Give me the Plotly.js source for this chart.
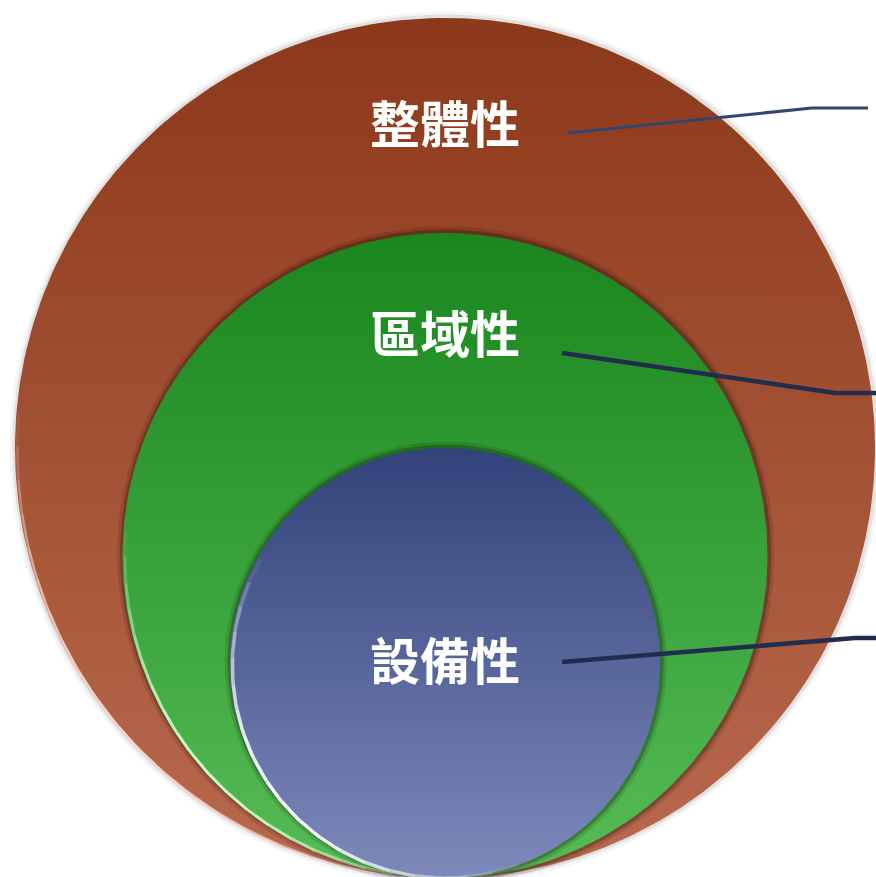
<!DOCTYPE html>
<html>
<head>
<meta charset="utf-8">
<script src="https://cdn.plot.ly/plotly-3.0.1.min.js"></script>
<style>html,body{margin:0;padding:0;background:#fff;}#chart{width:876px;height:877px;}</style>
</head>
<body>
<div id="chart"></div>
<script>
// ---- data ----
const levels = ['整體性', '區域性', '設備性'];
const radii = [100, 75, 50];            // relative size of each nested circle
const topColors = ['#8c381a', '#1b861d', '#31437a'];
const bottomColors = ['#b96a4e', '#56bc56', '#7d89bb'];
const rimRGB = ['255,220,205', '205,255,205', '255,255,255'];
const leaderColors = ['#34446c', '#222c4c', '#222c4c'];

// ---- layout helpers (pixel -> axis units) ----
const W = 876, H = 877, CX = 445, BASE = 878, SCALE = 4.3;
const ux = px => (px - CX) / SCALE;
const uy = py => (BASE - py) / SCALE;

function circle(r, grow, n, dx, dy) {
  const xs = [], ys = [];
  const R = r + grow;
  for (let i = 0; i <= n; i++) {
    const a = 2 * Math.PI * i / n;
    xs.push(dx + R * Math.cos(a));
    ys.push(dy + r + R * Math.sin(a));
  }
  return {xs, ys};
}
function arc(r, a0, a1, n) {
  const xs = [], ys = [];
  for (let i = 0; i <= n; i++) {
    const a = (a0 + (a1 - a0) * i / n) * Math.PI / 180;
    xs.push(r * Math.cos(a));
    ys.push(r + r * Math.sin(a));
  }
  return {xs, ys};
}

const shadowAlpha = [0.08, 0.22, 0.22];
const rimRange = [[175, 265], [175, 270], [150, 290]];
const rimWidth = [2.5, 3, 3.5];
const traces = [];
radii.forEach((r, i) => {
  // soft shadow (two layers)
  [[1.4, shadowAlpha[i] * 0.5], [0.7, shadowAlpha[i]]].forEach(([g, al]) => {
    const s = circle(r, g, 360, 0.15, 0.1);
    traces.push({x: s.xs, y: s.ys, mode: 'lines', fill: 'toself', line: {width: 0},
      fillcolor: 'rgba(0,0,0,' + al + ')', hoverinfo: 'skip', showlegend: false});
  });
  const c = circle(r, 0, 360, 0, 0);
  traces.push({x: c.xs, y: c.ys, mode: 'lines', fill: 'toself', line: {width: 0},
    fillgradient: {type: 'vertical', colorscale: [[0, bottomColors[i]], [1, topColors[i]]]},
    name: levels[i], hoverinfo: 'name', showlegend: false});
  // bevel highlight: segments fading in and out
  const [a0, a1] = rimRange[i];
  const nseg = 20;
  for (let k = 0; k < nseg; k++) {
    const s0 = a0 + (a1 - a0) * k / nseg, s1 = a0 + (a1 - a0) * (k + 1) / nseg;
    const t = (k + 0.5) / nseg;
    const op = Math.pow(Math.sin(Math.PI * t), 1.0) * 0.95;
    const a = arc(r - 0.55, s0, s1, 8);
    traces.push({x: a.xs, y: a.ys, mode: 'lines', line: {width: rimWidth[i], color: 'rgba(' + rimRGB[i] + ',' + op.toFixed(3) + ')'},
      hoverinfo: 'skip', showlegend: false});
  }
});

// leader lines (label -> right edge)
const leaderPx = [
  [[568, 133], [812, 108], [868, 108]],
  [[562, 353], [835, 393], [876, 393]],
  [[562, 662], [855, 638], [876, 638]]
];
const leaderWidth = [3, 4.5, 4.5];
leaderPx.forEach((pts, i) => {
  traces.push({x: pts.map(p => ux(p[0])), y: pts.map(p => uy(p[1])), mode: 'lines',
    line: {color: leaderColors[i], width: leaderWidth[i]}, hoverinfo: 'skip', showlegend: false});
});

const labelPy = [121, 331, 658];
const annotations = levels.map((t, i) => ({
  x: ux(445), y: uy(labelPy[i]), xref: 'x', yref: 'y', text: '<b>' + t + '</b>', showarrow: false,
  font: {family: 'Noto Sans CJK TC, Noto Sans CJK SC, sans-serif', size: 50, color: '#ffffff'},
  xanchor: 'center', yanchor: 'middle'
}));

const layout = {
  width: W, height: H,
  margin: {l: 0, r: 0, t: 0, b: 0, pad: 0},
  paper_bgcolor: '#ffffff', plot_bgcolor: '#ffffff',
  xaxis: {range: [ux(0), ux(W)], visible: false, fixedrange: true},
  yaxis: {range: [uy(H), uy(0)], visible: false, fixedrange: true},
  annotations: annotations,
  showlegend: false
};

Plotly.newPlot('chart', traces, layout, {displayModeBar: false, staticPlot: true});
</script>
</body>
</html>
